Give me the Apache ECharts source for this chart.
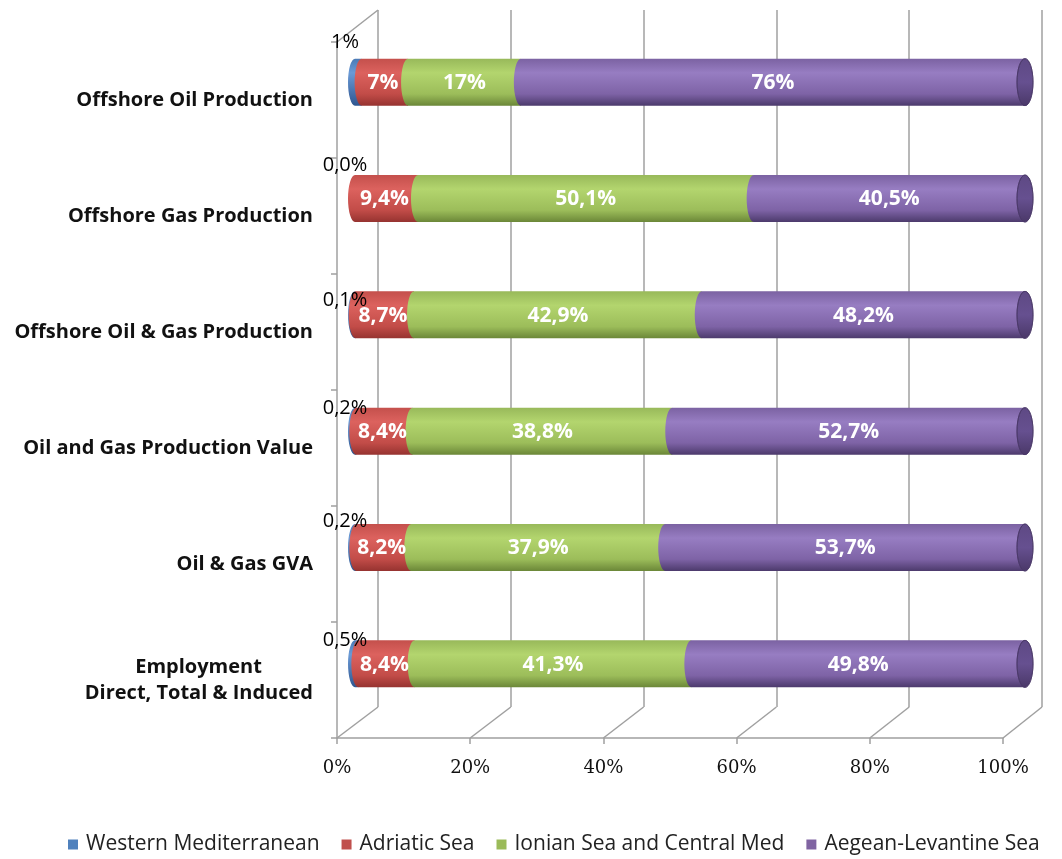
<!DOCTYPE html>
<html><head><meta charset="utf-8">
<script src="https://cdn.jsdelivr.net/npm/echarts@6/dist/echarts.min.js"></script>
<style>html,body{margin:0;padding:0;background:#fff}#c{width:1062px;height:859px}</style>
</head><body><div id="c"></div>
<script>
const categories = ['Offshore Oil Production','Offshore Gas Production','Offshore Oil & Gas Production','Oil and Gas Production Value','Oil & Gas GVA','Employment\nDirect, Total & Induced'];
const seriesNames = ['Western Mediterranean','Adriatic Sea','Ionian Sea and Central Med','Aegean-Levantine Sea'];
const western = [1, 0.0, 0.1, 0.2, 0.2, 0.5];
const adriatic = [7, 9.4, 8.7, 8.4, 8.2, 8.4];
const ionian = [17, 50.1, 42.9, 38.8, 37.9, 41.3];
const aegean = [76, 40.5, 48.2, 52.7, 53.7, 49.8];
const labelDecimals = [0, 1, 1, 1, 1, 1];
const xTicks = [0, 20, 40, 60, 80, 100];

const raw = [western, adriatic, ionian, aegean];
const sums = categories.map((c, i) => raw.reduce((s, a) => s + a[i], 0));
const fmt = (v, i) => v.toFixed(labelDecimals[i]).replace('.', ',') + '%';

// cumulative (100% stacked) extents per series
const extents = raw.map(() => []);
categories.forEach((c, i) => {
  let acc = 0;
  raw.forEach((arr, k) => {
    const s = acc / sums[i] * 100;
    acc += arr[i];
    const e = acc / sums[i] * 100;
    extents[k].push([s, e, i, arr[i]]);
  });
});

const G = (stops) => new echarts.graphic.LinearGradient(0, 0, 0, 1, stops.map(([o, c]) => ({offset: o, color: c})));
const fills = [
  G([[0, '#4A7AB6'], [0.3, '#6A9AD6'], [1, '#2F5690']]),
  G([[0, '#C4504C'], [0.3, '#DC625E'], [0.75, '#C24C48'], [1, '#963330']]),
  G([[0, '#98B95A'], [0.3, '#B3D56E'], [0.75, '#9CBD5A'], [1, '#6B8738']]),
  G([[0, '#7B62A2'], [0.3, '#977DC2'], [0.75, '#7E63A6'], [1, '#4C3A6C']])
];
const capFill = G([[0, '#5E4984'], [0.5, '#665090'], [1, '#4A3868']]);
const flat = ['#4F81BD', '#C0504D', '#9BBB59', '#8064A2'];
const grey = '#A0A0A0';
const catFont = 'Open Sans';
const barH = 47, rx = 7, capRx = 8;
const westLabelDy = [-40, -33, -15, -23, -26, -24];

const chart = echarts.init(document.getElementById('c'), null, {renderer: 'canvas'});

function makeSeries(k) {
  return {
    type: 'custom', name: seriesNames[k], xAxisIndex: 0, yAxisIndex: 0, z: 3,
    itemStyle: {color: flat[k]},
    data: extents[k],
    renderItem: (params, api) => {
      const s = api.value(0), e = api.value(1), i = api.value(2), v = api.value(3);
      const p0 = api.coord([s, i]), p1 = api.coord([e, i]);
      const top = p0[1] - barH / 2, bot = p0[1] + barH / 2;
      const children = [];
      if (v > 0) {
        const x0 = p0[0], x1 = p1[0];
        children.push({type: 'path', shape: {pathData:
          `M${x0},${top} L${x1},${top} L${x1},${bot} L${x0},${bot} A${rx},${barH / 2} 0 0 1 ${x0},${top} Z`},
          style: {fill: fills[k]}});
        if (k === raw.length - 1) {
          children.push({type: 'ellipse', shape: {cx: x1, cy: p0[1], rx: capRx, ry: barH / 2},
            style: {fill: capFill, stroke: '#4A3868', lineWidth: 0.8}});
        }
        if (k > 0) {
          children.push({type: 'text', z2: 10, style: {text: fmt(v, i), x: (x0 + x1) / 2 - (k === 1 ? 2 : 0), y: p0[1] + 1,
            align: 'center', verticalAlign: 'middle', fill: '#fff', font: 'bold 21px "Open Sans"'}});
        }
      }
      return {type: 'group', children};
    }
  };
}

// labels of the thin first segment, drawn above all bars
const westLabels = {
  type: 'custom', name: 'westLabels', xAxisIndex: 0, yAxisIndex: 0, z: 8, silent: true,
  data: extents[0],
  renderItem: (params, api) => {
    const i = api.value(2), v = api.value(3);
    const p0 = api.coord([api.value(0), i]);
    return {type: 'text', style: {text: fmt(v, i), x: p0[0] - 10, y: p0[1] + westLabelDy[i],
      align: 'center', verticalAlign: 'middle', fill: '#000', font: '20px "Open Sans"'}};
  }
};

// width of the second line of the two-line label, for centring the first line
const ctx = document.createElement('canvas').getContext('2d');
ctx.font = 'bold 20px "Open Sans"';
const lastParts = categories[categories.length - 1].split('\n');
const secondW = Math.ceil(ctx.measureText(lastParts[1]).width);

const option = {
  animation: false,
  backgroundColor: '#fff',
  legend: {
    top: 829, left: 63, itemWidth: 10, itemHeight: 10, itemGap: 22, icon: 'rect',
    textStyle: {fontFamily: 'Open Sans', fontSize: 21, color: '#222', padding: [0, 0, 0, 3]},
    data: seriesNames.map((n, k) => ({name: n, itemStyle: {color: flat[k]}}))
  },
  grid: [
    {left: 355, width: 670, top: 24, height: 698},
    {left: 378, width: 664, top: 10, height: 697},
    {left: 337, width: 666, top: 42, height: 696}
  ],
  xAxis: [
    {gridIndex: 0, type: 'value', min: 0, max: 100, show: false},
    {gridIndex: 1, type: 'value', min: 0, max: 100, interval: 20,
      axisLine: {show: false}, axisTick: {show: false}, axisLabel: {show: false},
      splitLine: {show: true, lineStyle: {color: grey, width: 1.5}}},
    {gridIndex: 2, type: 'value', min: 0, max: 100, interval: 20,
      axisLine: {show: true, lineStyle: {color: grey, width: 1.5}},
      axisTick: {show: true, length: 6, lineStyle: {color: grey, width: 1.5}},
      splitLine: {show: false},
      axisLabel: {margin: 21, fontFamily: 'DejaVu Serif', fontSize: 18, color: '#111', formatter: v => v + '%'}}
  ],
  yAxis: [
    {gridIndex: 0, type: 'category', inverse: true, data: categories, show: false},
    {gridIndex: 1, type: 'value', min: 0, max: 1, show: false},
    {gridIndex: 2, type: 'category', inverse: true, data: categories,
      axisLine: {show: true, lineStyle: {color: grey, width: 1.5}},
      axisTick: {show: true, length: 6, lineStyle: {color: grey, width: 1.5}},
      axisLabel: {margin: 24, fontFamily: catFont, fontSize: 20, fontWeight: 'bold', color: '#111',
        formatter: v => v.indexOf('\n') >= 0 ? '{a|' + v.split('\n')[0] + '}\n{b|' + v.split('\n')[1] + '}' : v,
        rich: {
          a: {fontFamily: catFont, fontSize: 20, fontWeight: 'bold', color: '#111', width: secondW, align: 'center', lineHeight: 26},
          b: {fontFamily: catFont, fontSize: 20, fontWeight: 'bold', color: '#111', align: 'right', lineHeight: 26}
        }}}
  ],
  series: raw.map((a, k) => makeSeries(k)).concat([westLabels])
};
chart.setOption(option);

// 3D floor/wall connector lines derived from the axes
const fx = v => chart.convertToPixel({xAxisIndex: 2}, v);
const bx = v => chart.convertToPixel({xAxisIndex: 1}, v);
const backBottomY = chart.convertToPixel({yAxisIndex: 1}, 0);
const backTopY = chart.convertToPixel({yAxisIndex: 1}, 1);
const gridRect = chart.getModel().getComponent('grid', 2).coordinateSystem.getRect();
const lines = xTicks.map(v => ({type: 'line', z: 1, silent: true,
  shape: {x1: fx(v), y1: gridRect.y + gridRect.height, x2: bx(v), y2: backBottomY},
  style: {stroke: grey, lineWidth: 1.5}}));
lines.push({type: 'line', z: 1, silent: true,
  shape: {x1: fx(0), y1: gridRect.y, x2: bx(0), y2: backTopY},
  style: {stroke: grey, lineWidth: 1.5}});
chart.setOption({graphic: lines});
</script></body></html>
